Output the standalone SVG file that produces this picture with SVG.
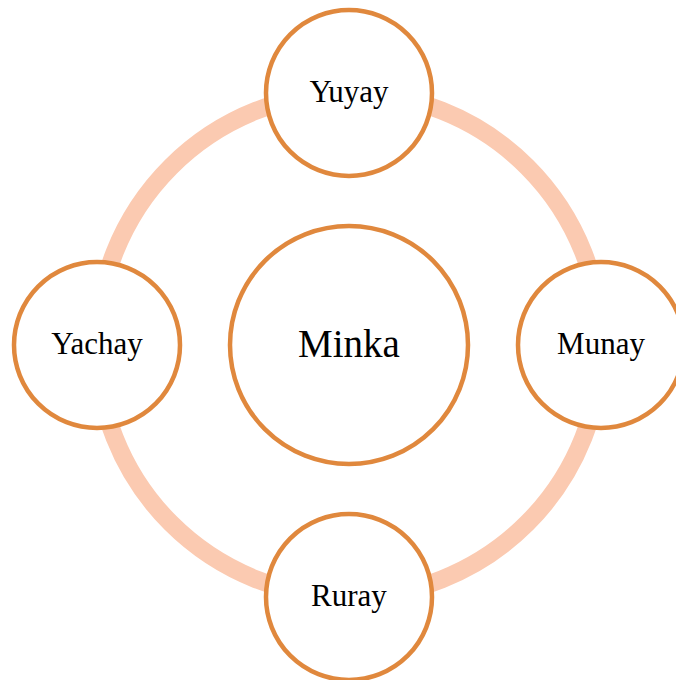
<svg xmlns="http://www.w3.org/2000/svg" width="676" height="680" viewBox="0 0 676 680">
<style>
.ring{fill:none;stroke:#FBCAB1;stroke-width:18}
.node{fill:#FFFFFF;stroke:#E0883D;stroke-width:4.5}
.lbl{font-family:"Liberation Serif","Times New Roman",serif;font-size:31px;fill:#000;text-anchor:middle}
.big{font-size:39px}
</style>
<rect width="676" height="680" fill="#FFFFFF"/>
<g id="connectors">
<circle class="ring" cx="349" cy="345" r="252"/>
</g>
<g id="node-minka">
<circle class="node" cx="349" cy="345" r="119"/>
<text class="lbl big" x="349" y="357">Minka</text>
</g>
<g id="node-yuyay">
<circle class="node" cx="349" cy="93" r="83"/>
<text class="lbl" x="349" y="102">Yuyay</text>
</g>
<g id="node-munay">
<circle class="node" cx="601" cy="345" r="83"/>
<text class="lbl" x="601" y="354">Munay</text>
</g>
<g id="node-ruray">
<circle class="node" cx="349" cy="597" r="83"/>
<text class="lbl" x="349" y="606">Ruray</text>
</g>
<g id="node-yachay">
<circle class="node" cx="97" cy="345" r="83"/>
<text class="lbl" x="97" y="354">Yachay</text>
</g>
</svg>
